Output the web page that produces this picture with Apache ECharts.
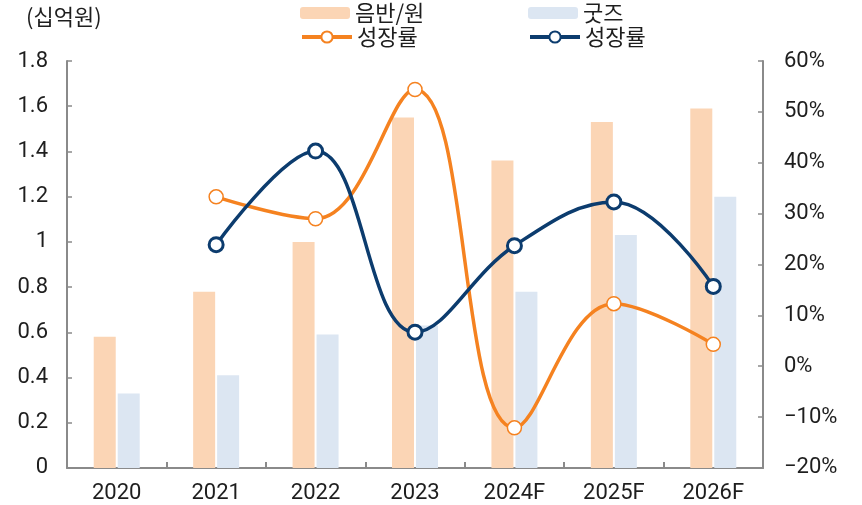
<!DOCTYPE html>
<html>
<head>
<meta charset="utf-8">
<script src="https://cdn.jsdelivr.net/npm/echarts@6/dist/echarts.min.js"></script>
<style>
  html, body { margin: 0; padding: 0; background: #fff; }
  #chart { width: 862px; height: 505px; }
</style>
</head>
<body>
<div id="chart"></div>
<script>
// Years on the category axis
const years = ['2020', '2021', '2022', '2023', '2024F', '2025F', '2026F'];
// Revenue, billions of won
const albumSales = [0.58, 0.78, 1.00, 1.55, 1.36, 1.53, 1.59];
const goodsSales = [0.33, 0.41, 0.59, 0.63, 0.78, 1.03, 1.20];
// Year-over-year growth, %
const albumGrowth = ['-', 33.3, 29.0, 54.4, -12.1, 12.3, 4.3];
const goodsGrowth = ['-', 23.9, 42.3, 6.7, 23.7, 32.3, 15.7];

const NUM_FONT = 'Roboto, "Noto Sans CJK KR", sans-serif';
const KR_FONT = '"Noto Sans CJK KR", Roboto, sans-serif';
const AXIS_COLOR = '#8a8a8a';
const TEXT_COLOR = '#1e1e1e';
const ORANGE_BAR = '#FBD5B5';
const BLUE_BAR = '#DCE6F2';
const ORANGE_LINE = '#F58220';
const NAVY_LINE = '#0C3C6E';

const growthLabel = name => (name.indexOf('성장률') >= 0 ? '성장률' : name);

function legendAt(name, left, top, iconHeight) {
  return {
    data: [name],
    left: left,
    top: top,
    itemWidth: 50,
    itemHeight: iconHeight,
    itemGap: 0,
    padding: 0,
    selectedMode: false,
    formatter: growthLabel,
    lineStyle: { width: 4 },
    textStyle: { fontFamily: KR_FONT, fontSize: 22, color: TEXT_COLOR }
  };
}

const chart = echarts.init(document.getElementById('chart'), null, { renderer: 'canvas' });

chart.setOption({
  animation: false,
  textStyle: { fontFamily: NUM_FONT },
  graphic: [{
    type: 'text',
    left: 26,
    top: 6,
    style: { text: '(십억원)', font: '22px ' + KR_FONT, fill: TEXT_COLOR }
  }],
  legend: [
    legendAt('음반/원', 300, 2, 12),
    legendAt('굿즈', 528, 2, 12),
    legendAt('음반/원 성장률', 300, 26, 14),
    legendAt('굿즈 성장률', 528, 26, 14)
  ],
  grid: { left: 67, right: 99, top: 61, bottom: 36, containLabel: false },
  xAxis: {
    type: 'category',
    data: years,
    axisLine: { lineStyle: { color: AXIS_COLOR, width: 2 } },
    axisTick: { show: true, inside: true, length: 6, lineStyle: { color: AXIS_COLOR, width: 2 } },
    axisLabel: { color: TEXT_COLOR, fontSize: 22, fontFamily: NUM_FONT, margin: 15 }
  },
  yAxis: [{
    type: 'value',
    min: 0,
    max: 1.8,
    interval: 0.2,
    position: 'left',
    axisLine: { show: true, lineStyle: { color: AXIS_COLOR, width: 2 } },
    axisTick: { show: true, inside: true, length: 5, lineStyle: { color: AXIS_COLOR, width: 1.5 } },
    splitLine: { show: false },
    axisLabel: {
      color: TEXT_COLOR, fontSize: 22, fontFamily: NUM_FONT, margin: 19,
      formatter: v => String(Math.round(v * 10) / 10)
    }
  }, {
    type: 'value',
    min: -20,
    max: 60,
    interval: 10,
    position: 'right',
    axisLine: { show: true, lineStyle: { color: AXIS_COLOR, width: 2 } },
    axisTick: { show: true, inside: true, length: 5, lineStyle: { color: AXIS_COLOR, width: 1.5 } },
    splitLine: { show: false },
    axisLabel: {
      color: TEXT_COLOR, fontSize: 22, fontFamily: NUM_FONT, margin: 21,
      formatter: v => (v < 0 ? '\u2212' + Math.abs(v) : v) + '%'
    }
  }],
  series: [{
    name: '음반/원',
    type: 'bar',
    data: albumSales,
    barWidth: 22,
    barGap: '9%',
    itemStyle: { color: ORANGE_BAR }
  }, {
    name: '굿즈',
    type: 'bar',
    data: goodsSales,
    barWidth: 22,
    itemStyle: { color: BLUE_BAR }
  }, {
    name: '음반/원 성장률',
    type: 'line',
    yAxisIndex: 1,
    data: albumGrowth,
    smooth: 0.4,
    symbol: 'circle',
    symbolSize: 14,
    showAllSymbol: true,
    lineStyle: { color: ORANGE_LINE, width: 3.5 },
    itemStyle: { color: '#fff', borderColor: ORANGE_LINE, borderWidth: 1.5 },
    z: 3
  }, {
    name: '굿즈 성장률',
    type: 'line',
    yAxisIndex: 1,
    data: goodsGrowth,
    smooth: 0.4,
    symbol: 'circle',
    symbolSize: 14,
    showAllSymbol: true,
    lineStyle: { color: NAVY_LINE, width: 3.5 },
    itemStyle: { color: '#fff', borderColor: NAVY_LINE, borderWidth: 3 },
    z: 4
  }]
});
</script>
</body>
</html>
